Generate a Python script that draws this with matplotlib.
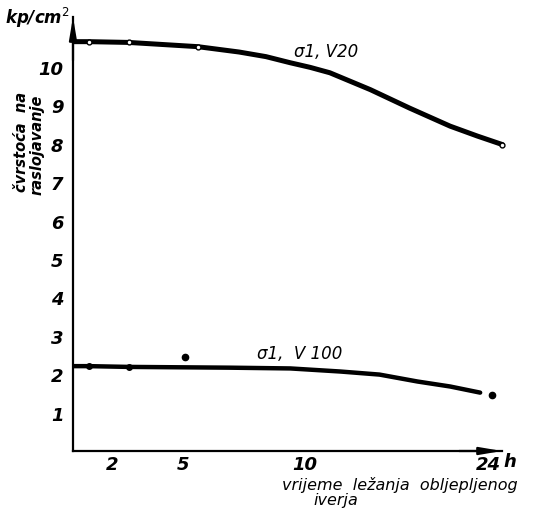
import numpy as np
import matplotlib.pyplot as plt

# time axis (hours) and strength axis (kp/cm2)
hour_ticks = [2, 5, 10, 24]
strength_ticks = [1, 2, 3, 4, 5, 6, 7, 8, 9, 10]

# sigma1, V20 curve
v20_h = [0.05, 0.8, 2.7, 5.6, 7.3, 8.4, 9.4, 10.4, 11.9, 15.0, 18.0, 21.1, 23.2, 25.1]
v20_y = [10.66, 10.66, 10.64, 10.53, 10.39, 10.27, 10.11, 9.99, 9.85, 9.41, 8.93, 8.46, 8.20, 7.98]
v20_mark_h = [0.8, 2.7, 5.6, 25.1]
v20_mark_y = [10.66, 10.64, 10.53, 7.98]

# sigma1, V100 curve
v100_h = [0.05, 0.8, 2.7, 6.9, 9.4, 12.7, 15.7, 18.6, 21.1, 23.4]
v100_y = [2.21, 2.21, 2.19, 2.17, 2.15, 2.07, 1.99, 1.81, 1.68, 1.52]
v100_mark_h = [0.8, 2.7]
v100_mark_y = [2.21, 2.19]
v100_dot_h = [5.1, 24.3]
v100_dot_y = [2.44, 1.45]

# hand drawn time axis is not linear: hours -> drawing position
knot_h = [0, 2, 5, 10, 24, 40]
knot_p = [0, 39, 110, 232, 415, 624]

def fwd(x):
    return np.interp(x, knot_h, knot_p)

def inv(p):
    return np.interp(p, knot_p, knot_h)

W, H = 540, 510
fig = plt.figure(figsize=(W / 100, H / 100), dpi=100)
ax = fig.add_axes([73 / W, 58 / H, 429 / W, 434 / H])
ax.set_xscale('function', functions=(fwd, inv))
ax.set_xlim(0, inv(429))
ax.set_ylim(0, 434 / 38.4)

ax.plot(v20_h, v20_y, color='black', lw=3.6, solid_capstyle='round', solid_joinstyle='round', clip_on=False)
ax.plot(v20_mark_h, v20_mark_y, 'o', ms=3.5, mfc='white', mec='black', mew=1.0, clip_on=False)
ax.plot(v100_h, v100_y, color='black', lw=3.2, solid_capstyle='round', solid_joinstyle='round')
ax.plot(v100_mark_h, v100_mark_y, 'o', ms=4, mfc='black', mec='black')
ax.plot(v100_dot_h, v100_dot_y, 'o', ms=4.5, color='black')

for s in ['top', 'right']:
    ax.spines[s].set_visible(False)
for s in ['left', 'bottom']:
    ax.spines[s].set_linewidth(1.6)

# arrow heads on the axes
arrow = dict(arrowstyle='-|>,head_length=1.3,head_width=0.22', color='black', lw=1.6,
             shrinkA=0, shrinkB=0)
ax.annotate('', xy=(0, 1), xytext=(0, 0.9), xycoords='axes fraction', arrowprops=arrow)
ax.annotate('', xy=(1, 0), xytext=(0.9, 0), xycoords='axes fraction', arrowprops=arrow)

tick_font = dict(fontsize=13, fontweight='bold', fontstyle='italic')
ax.set_xticks(hour_ticks)
ax.set_xticklabels([str(t) for t in hour_ticks], **tick_font)
ax.set_yticks(strength_ticks)
ax.set_yticklabels([str(t) for t in strength_ticks], **tick_font)
ax.tick_params(length=0)
ax.tick_params(axis='y', pad=7)
ax.tick_params(axis='x', pad=3)
ax.xaxis.set_minor_locator(plt.NullLocator())

def ftext(x, y, s, **kw):
    fig.text(x / W, 1 - y / H, s, fontstyle='italic', **kw)

ftext(5, 18, 'kp/cm$^2$', fontsize=12, fontweight='bold', va='center', ha='left')
ftext(22, 142, 'čvrstoća  na', fontsize=10.5, fontweight='bold', rotation=90, va='center', ha='center')
ftext(37, 145, 'raslojavanje', fontsize=10.5, fontweight='bold', rotation=90, va='center', ha='center')
ftext(510, 462, 'h', fontsize=13, fontweight='bold', va='center', ha='center')
ftext(400, 485, 'vrijeme  ležanja  obljepljenog', fontsize=11.5, va='center', ha='center')
ftext(336, 501, 'iverja', fontsize=11.5, va='center', ha='center')
ftext(294, 52, 'σ1, V20', fontsize=12, va='center', ha='left')
ftext(257, 354, 'σ1,  V 100', fontsize=12, va='center', ha='left')

fig.savefig('out.png', dpi=100)
